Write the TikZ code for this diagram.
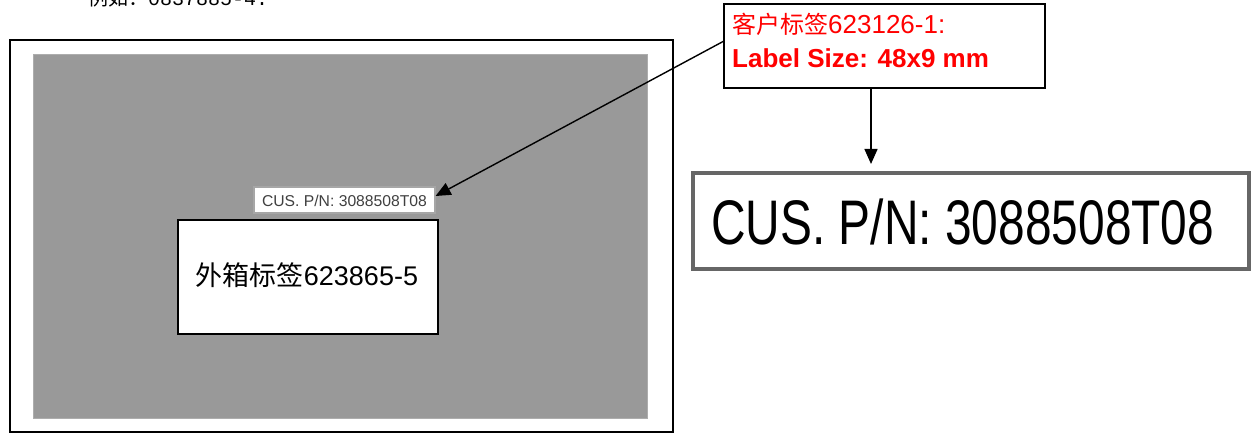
\documentclass[tikz,border=0pt]{standalone}
\usepackage{fontspec}
\setmainfont{Liberation Sans}
\newfontfamily\cjk{Noto Sans CJK SC}
\newfontfamily\mono{Liberation Mono}
\usetikzlibrary{arrows.meta}
\definecolor{boxgray}{HTML}{999999}
\definecolor{lblred}{HTML}{FF0000}
\tikzset{
  x=1pt,y=-1pt,
  frame/.style={draw=black,line width=2pt},
  panel/.style={draw=boxgray!80!white,fill=boxgray,line width=1pt},
  whitebox/.style={draw=black,fill=white,line width=1.6pt},
  smalllabel/.style={draw=gray!70,fill=white,line width=1.2pt},
  biglabel/.style={draw=black!60,fill=white,line width=3.5pt},
  pointer/.style={draw=black,line width=1.4pt,-{Triangle[length=15pt,width=13pt]}}
}
\begin{document}
\begin{tikzpicture}
\useasboundingbox (0,0) rectangle (1255,435);
% top cut text
\node[anchor=base west,inner sep=0pt,font=\fontsize{20}{20}\selectfont] (toptext) at (88,6) {{\cjk 例如：}{\mono 0837885-4.}};
% outer frame and panel
\draw[frame] (10,40) rectangle (673,432);
\draw[panel] (33,55) rectangle (647,418);
% small customer label
\node[smalllabel,minimum width=181pt,minimum height=26pt,inner sep=0pt] (small) at (344.5,200) {};
\node[text=black!75,font=\fontsize{15.7}{15.7}\selectfont,inner sep=0pt] (smalltxt) at (344.5,200.5) {CUS. P/N: 3088508T08};
% outer carton label
\node[whitebox,minimum width=260pt,minimum height=114pt,inner sep=0pt] (carton) at (308,277) {};
\node[inner sep=0pt,font=\fontsize{27}{27}\selectfont] (cartontxt) at (307,275) {{\cjk 外箱标签}623865-5};
% red callout box
\node[draw=black,fill=white,line width=1.6pt,minimum width=321pt,minimum height=84pt,inner sep=0pt] (callout) at (884.5,46) {};
\node[anchor=base west,inner sep=0pt,text=lblred,font=\fontsize{26}{26}\selectfont] (line1) at (732,34) {{\cjk\fontsize{24}{24}\selectfont 客户标签}623126-1:};
\node[anchor=base west,inner sep=0pt,text=lblred,font=\bfseries\fontsize{26}{26}\selectfont] (line2) at (732,68) {Label Size: 48x9 mm};
% big label
\node[biglabel,minimum width=556pt,minimum height=96pt,inner sep=0pt] (big) at (971,221) {};
\node[inner sep=0pt,font=\fontsize{63}{63}\selectfont,anchor=base west] (bigtxt) at (711,245) {\scalebox{0.76}[1]{CUS. P/N: 3088508T08}};
% arrows
\coordinate (c1) at (724,41);
\coordinate (c2) at (871,89);
\draw[pointer] (c1) -- (small.east |- 0,196) ;
\draw[pointer] (c2) -- (871,164);
\end{tikzpicture}
\end{document}
